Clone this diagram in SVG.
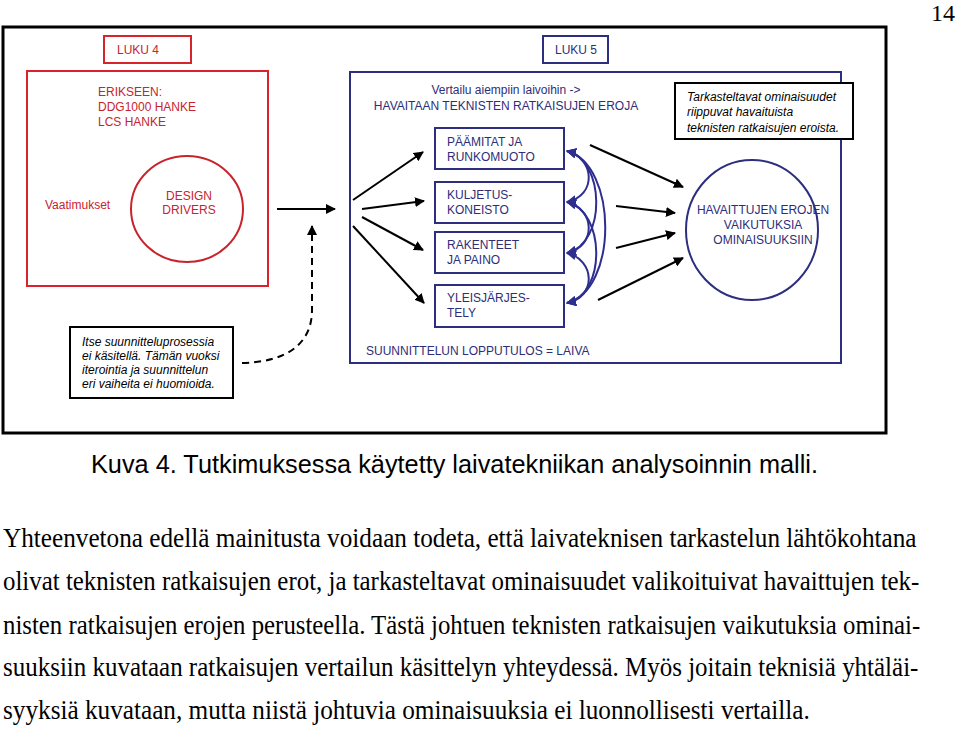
<svg xmlns="http://www.w3.org/2000/svg" width="960" height="729" viewBox="0 0 960 729">
<defs>
<style>
.d{font-family:"Liberation Sans",Arial,sans-serif;font-size:12px}
.red{fill:#c8242c}
.blu{fill:#2e2e78}
.blk{fill:#000}
.it{font-style:italic}
.rbox{fill:none;stroke:#d9232a;stroke-width:2}
.bbox{fill:#fff;stroke:#2e2e80;stroke-width:2}
.kbox{fill:#fff;stroke:#000;stroke-width:2}
.ka{stroke:#000;stroke-width:2;fill:none;marker-end:url(#ah)}
.ba{stroke:#2e2e90;stroke-width:2;fill:none;marker-start:url(#bh);marker-end:url(#bh)}
.cap{font-family:"Liberation Sans",Arial,sans-serif;font-size:26px}
.body{font-family:"Liberation Serif","Times New Roman",serif;font-size:27px}
.pg{font-family:"Liberation Serif","Times New Roman",serif;font-size:24px}
</style>
<marker id="ah" viewBox="0 0 10 10" refX="9" refY="5" markerWidth="5" markerHeight="5" orient="auto" markerUnits="strokeWidth">
<path d="M0,0 L10,5 L0,10 z" fill="#000"/>
</marker>
<marker id="bh" viewBox="0 0 10 10" refX="9" refY="5" markerWidth="5" markerHeight="5" orient="auto-start-reverse" markerUnits="strokeWidth">
<path d="M0,0 L10,5 L0,10 z" fill="#2e2e90"/>
</marker>
</defs>
<rect width="960" height="729" fill="#fff"/>
<text x="955" y="21" class="pg" text-anchor="end">14</text>

<g id="frame"><rect x="3" y="27" width="883" height="406" fill="none" stroke="#000" stroke-width="3"/></g>

<g id="luku4"><rect x="104" y="36" width="87" height="27" class="rbox"/><text x="117" y="54" class="d red">LUKU 4</text></g>
<g id="luku5"><rect x="543" y="36" width="65" height="27" fill="none" stroke="#2e2e80" stroke-width="2"/><text x="576" y="54" class="d blu" text-anchor="middle">LUKU 5</text></g>

<g id="requirements">
<rect x="27" y="71" width="241" height="215" class="rbox"/>
<text class="d red"><tspan x="98" y="96">ERIKSEEN:</tspan><tspan x="98" y="111">DDG1000 HANKE</tspan><tspan x="98" y="126">LCS HANKE</tspan></text>
<text x="45" y="209" class="d red">Vaatimukset</text>
</g>
<g id="design-drivers">
<ellipse cx="187" cy="209" rx="56" ry="53" fill="none" stroke="#c8242c" stroke-width="2"/>
<text class="d red" text-anchor="middle"><tspan x="189" y="200">DESIGN</tspan><tspan x="189" y="214">DRIVERS</tspan></text>
</g>

<g id="comparison">
<rect x="350" y="72" width="491" height="291" fill="none" stroke="#2e2e80" stroke-width="2"/>
<text class="d blu" text-anchor="middle"><tspan x="506" y="94">Vertailu aiempiin laivoihin -&gt;</tspan><tspan x="506" y="110">HAVAITAAN TEKNISTEN RATKAISUJEN EROJA</tspan></text>
<text x="366" y="355" class="d blu">SUUNNITTELUN LOPPUTULOS = LAIVA</text>
</g>

<g id="note-properties">
<rect x="675" y="83" width="178" height="56" class="kbox"/>
<text class="d blk it"><tspan x="687" y="101">Tarkasteltavat ominaisuudet</tspan><tspan x="687" y="116">riippuvat havaituista</tspan><tspan x="687" y="132">teknisten ratkaisujen eroista.</tspan></text>
</g>

<g id="paamitat"><rect x="435" y="128" width="129" height="41" class="bbox"/><text class="d blu"><tspan x="447" y="146">PÄÄMITAT JA</tspan><tspan x="447" y="161">RUNKOMUOTO</tspan></text></g>
<g id="kuljetus"><rect x="435" y="182" width="129" height="41" class="bbox"/><text class="d blu"><tspan x="447" y="199">KULJETUS-</tspan><tspan x="447" y="214">KONEISTO</tspan></text></g>
<g id="rakenteet"><rect x="435" y="232" width="129" height="41" class="bbox"/><text class="d blu"><tspan x="447" y="249">RAKENTEET</tspan><tspan x="447" y="264">JA PAINO</tspan></text></g>
<g id="yleis"><rect x="435" y="285" width="129" height="42" class="bbox"/><text class="d blu"><tspan x="447" y="302">YLEISJÄRJES-</tspan><tspan x="447" y="317">TELY</tspan></text></g>

<g id="effects">
<ellipse cx="752" cy="230" rx="66" ry="70" fill="none" stroke="#2e2e80" stroke-width="2"/>
<text class="d blu" text-anchor="middle"><tspan x="763" y="214">HAVAITTUJEN EROJEN</tspan><tspan x="763" y="229">VAIKUTUKSIA</tspan><tspan x="763" y="244">OMINAISUUKSIIN</tspan></text>
</g>

<g id="note-process">
<rect x="70" y="327" width="163" height="71" class="kbox"/>
<text class="d blk it"><tspan x="82" y="346">Itse suunnitteluprosessia</tspan><tspan x="82" y="360">ei käsitellä. Tämän vuoksi</tspan><tspan x="82" y="374">iterointia ja suunnittelun</tspan><tspan x="82" y="388">eri vaiheita ei huomioida.</tspan></text>
</g>

<g id="connectors">
<line x1="277" y1="209" x2="335" y2="209" class="ka"/>
<path d="M242,363 C285,362 312,345 312,310 L312,226" stroke="#000" stroke-width="2" fill="none" stroke-dasharray="7,5" marker-end="url(#ah)"/>
<line x1="353" y1="200" x2="423" y2="152" class="ka"/>
<line x1="362" y1="209" x2="424" y2="201" class="ka"/>
<line x1="362" y1="217" x2="423" y2="250" class="ka"/>
<line x1="353" y1="226" x2="424" y2="303" class="ka"/>
<line x1="590" y1="145" x2="683" y2="187" class="ka"/>
<line x1="616" y1="206" x2="675" y2="213" class="ka"/>
<line x1="616" y1="248" x2="675" y2="233" class="ka"/>
<line x1="598" y1="300" x2="683" y2="258" class="ka"/>
<path d="M567,151 C595,158 597,196 567,202" class="ba"/>
<path d="M567,202 C595,209 597,246 567,253" class="ba"/>
<path d="M567,253 C595,260 597,297 567,303" class="ba"/>
<path d="M567,151 C605,160 607,243 567,253" class="ba"/>
<path d="M567,202 C605,211 607,294 567,303" class="ba"/>
<path d="M567,151 C618,165 618,290 567,303" class="ba"/>
</g>

<text x="91" y="473" class="cap" textLength="727" lengthAdjust="spacingAndGlyphs">Kuva 4. Tutkimuksessa käytetty laivatekniikan analysoinnin malli.</text>

<g class="body">
<text transform="translate(3,547) scale(0.92,1)" x="0" y="0" textLength="993" lengthAdjust="spacingAndGlyphs">Yhteenvetona edellä mainitusta voidaan todeta, että laivateknisen tarkastelun lähtökohtana</text>
<text transform="translate(3,590) scale(0.92,1)" x="0" y="0" textLength="996" lengthAdjust="spacingAndGlyphs">olivat teknisten ratkaisujen erot, ja tarkasteltavat ominaisuudet valikoituivat havaittujen tek-</text>
<text transform="translate(3,634) scale(0.92,1)" x="0" y="0" textLength="997" lengthAdjust="spacingAndGlyphs">nisten ratkaisujen erojen perusteella. Tästä johtuen teknisten ratkaisujen vaikutuksia ominai-</text>
<text transform="translate(3,676) scale(0.92,1)" x="0" y="0" textLength="995" lengthAdjust="spacingAndGlyphs">suuksiin kuvataan ratkaisujen vertailun käsittelyn yhteydessä. Myös joitain teknisiä yhtäläi-</text>
<text transform="translate(3,719) scale(0.92,1)" x="0" y="0" textLength="877" lengthAdjust="spacingAndGlyphs">syyksiä kuvataan, mutta niistä johtuvia ominaisuuksia ei luonnollisesti vertailla.</text>
</g>
</svg>
